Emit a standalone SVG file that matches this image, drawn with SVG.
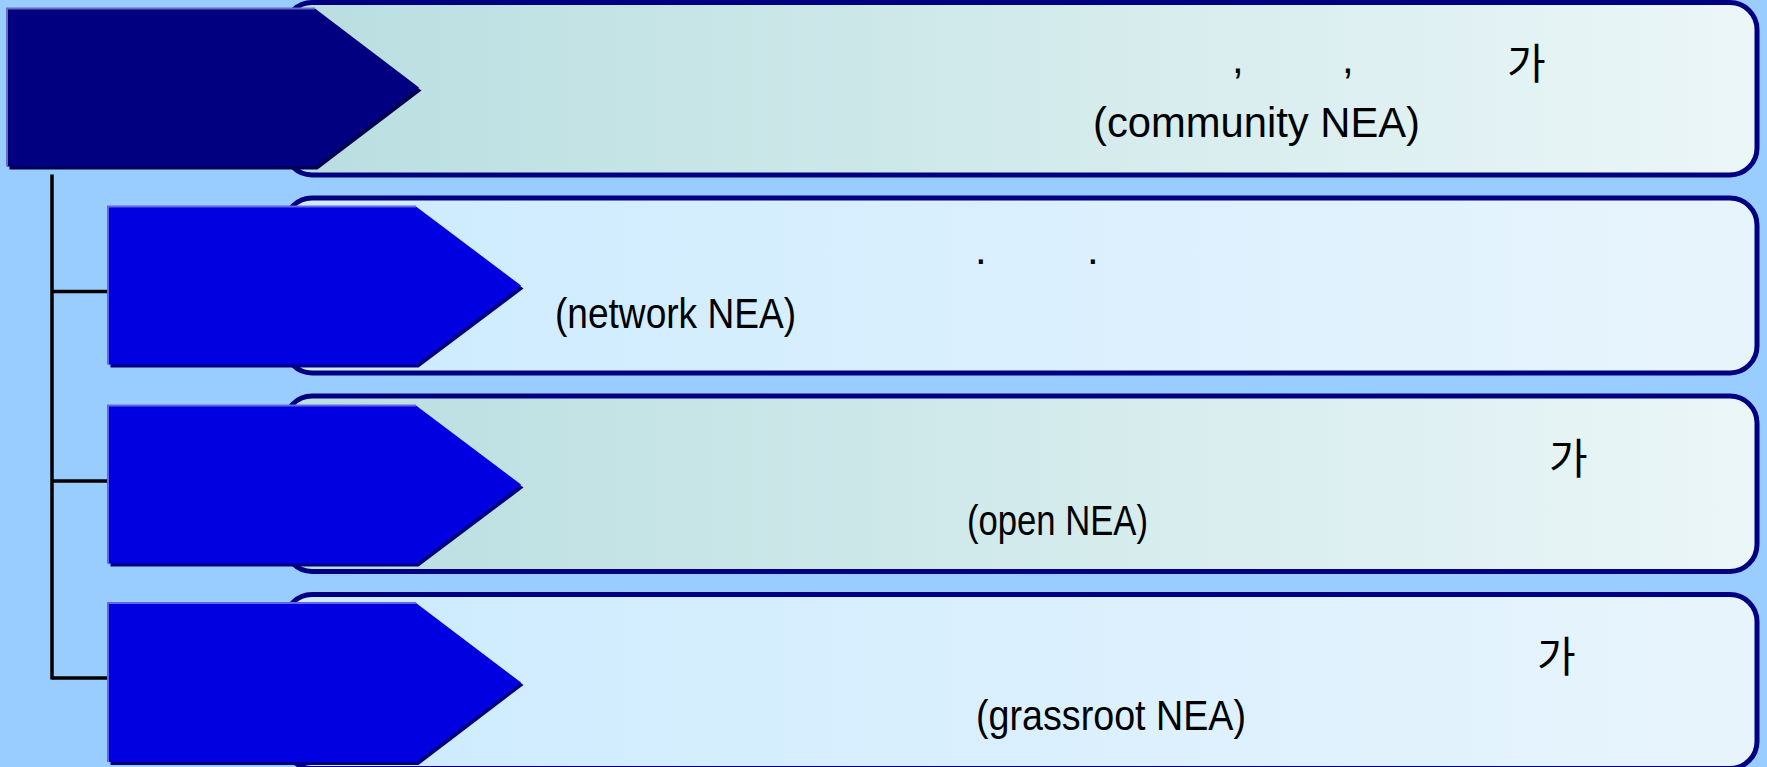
<svg xmlns="http://www.w3.org/2000/svg" width="1767" height="767" viewBox="0 0 1767 767">
  <defs>
    <linearGradient id="gTeal" x1="0" y1="0" x2="1" y2="0">
      <stop offset="0" stop-color="#B9DEE0"/>
      <stop offset="1" stop-color="#EBF6F7"/>
    </linearGradient>
    <linearGradient id="gBlue" x1="0" y1="0" x2="1" y2="0">
      <stop offset="0" stop-color="#CCEBFF"/>
      <stop offset="1" stop-color="#E8F4FC"/>
    </linearGradient>
  </defs>
  <style>
    .box { stroke: #000080; stroke-width: 5; }
    .shadow1 { fill: #000050; }
    .shadow { fill: #000080; }
    .head { fill: #000080; }
    .sub { fill: #0000E0; }
    .edge1 { fill: none; stroke: #6B6BC0; stroke-width: 2; }
    .edge { fill: none; stroke: #6464E6; stroke-width: 2; }
    .conn { stroke: #000000; stroke-width: 3.5; fill: none; }
    .lat { font-family: "Liberation Sans", Arial, sans-serif; font-size: 42px; fill: #000000; }
    .kr { font-family: "Noto Sans CJK KR", "Noto Sans", sans-serif; font-size: 42px; fill: #000000; }
  </style>
  <rect x="0" y="0" width="1767" height="767" fill="#99CCFF"/>

  <g id="connectors">
    <line class="conn" x1="52" y1="174.5" x2="52" y2="679.5"/>
    <line class="conn" x1="52" y1="291.5" x2="108" y2="291.5"/>
    <line class="conn" x1="52" y1="481" x2="108" y2="481"/>
    <line class="conn" x1="52" y1="678" x2="108" y2="678"/>
  </g>

  <g id="box1">
    <rect class="box" x="285" y="2.5" width="1472" height="172.5" rx="27" ry="27" fill="url(#gTeal)"/>
    <text class="lat" x="1232" y="73">,</text>
    <text class="lat" x="1342" y="73">,</text>
    <text class="kr" x="1507" y="79">가</text>
    <text class="lat" x="1093" y="137" textLength="327" lengthAdjust="spacingAndGlyphs">(community NEA)</text>
  </g>

  <g id="box2">
    <rect class="box" x="285" y="198" width="1472" height="175" rx="27" ry="27" fill="url(#gBlue)"/>
    <text class="lat" x="975" y="264">.</text>
    <text class="lat" x="1087" y="264">.</text>
    <text class="lat" x="555" y="328" textLength="241" lengthAdjust="spacingAndGlyphs">(network NEA)</text>
  </g>

  <g id="box3">
    <rect class="box" x="285" y="396" width="1472" height="175.5" rx="27" ry="27" fill="url(#gTeal)"/>
    <text class="kr" x="1549" y="474">가</text>
    <text class="lat" x="967" y="535" textLength="181" lengthAdjust="spacingAndGlyphs">(open NEA)</text>
  </g>

  <g id="box4">
    <rect class="box" x="285" y="594.5" width="1472" height="174" rx="27" ry="27" fill="url(#gBlue)"/>
    <text class="kr" x="1537" y="672">가</text>
    <text class="lat" x="976" y="730" textLength="270" lengthAdjust="spacingAndGlyphs">(grassroot NEA)</text>
  </g>

  <g id="arrow1">
    <polygon class="shadow1" points="9.5,11.5 317.5,11.5 421.5,90.5 317.5,169.5 9.5,169.5"/>
    <polygon class="head" points="7,8.5 315,8.5 419,87.5 315,166.5 7,166.5"/>
    <polyline class="edge1" points="7,166.5 7,8.5 315,8.5"/>
  </g>

  <g id="arrow2">
    <polygon class="shadow" points="110.5,209.5 418.5,209.5 523.5,288.5 418.5,367.5 110.5,367.5"/>
    <polygon class="sub" points="108,206.5 416,206.5 521,285.5 416,364.5 108,364.5"/>
    <polyline class="edge" points="108,364.5 108,206.5 416,206.5"/>
  </g>

  <g id="arrow3">
    <polygon class="shadow" points="110.5,408.5 418.5,408.5 523.5,487.5 418.5,566.5 110.5,566.5"/>
    <polygon class="sub" points="108,405.5 416,405.5 521,484.5 416,563.5 108,563.5"/>
    <polyline class="edge" points="108,563.5 108,405.5 416,405.5"/>
  </g>

  <g id="arrow4">
    <polygon class="shadow" points="110.5,606 418.5,606 523.5,685 418.5,765 110.5,765"/>
    <polygon class="sub" points="108,603 416,603 521,682.5 416,762 108,762"/>
    <polyline class="edge" points="108,762 108,603 416,603"/>
  </g>
</svg>
